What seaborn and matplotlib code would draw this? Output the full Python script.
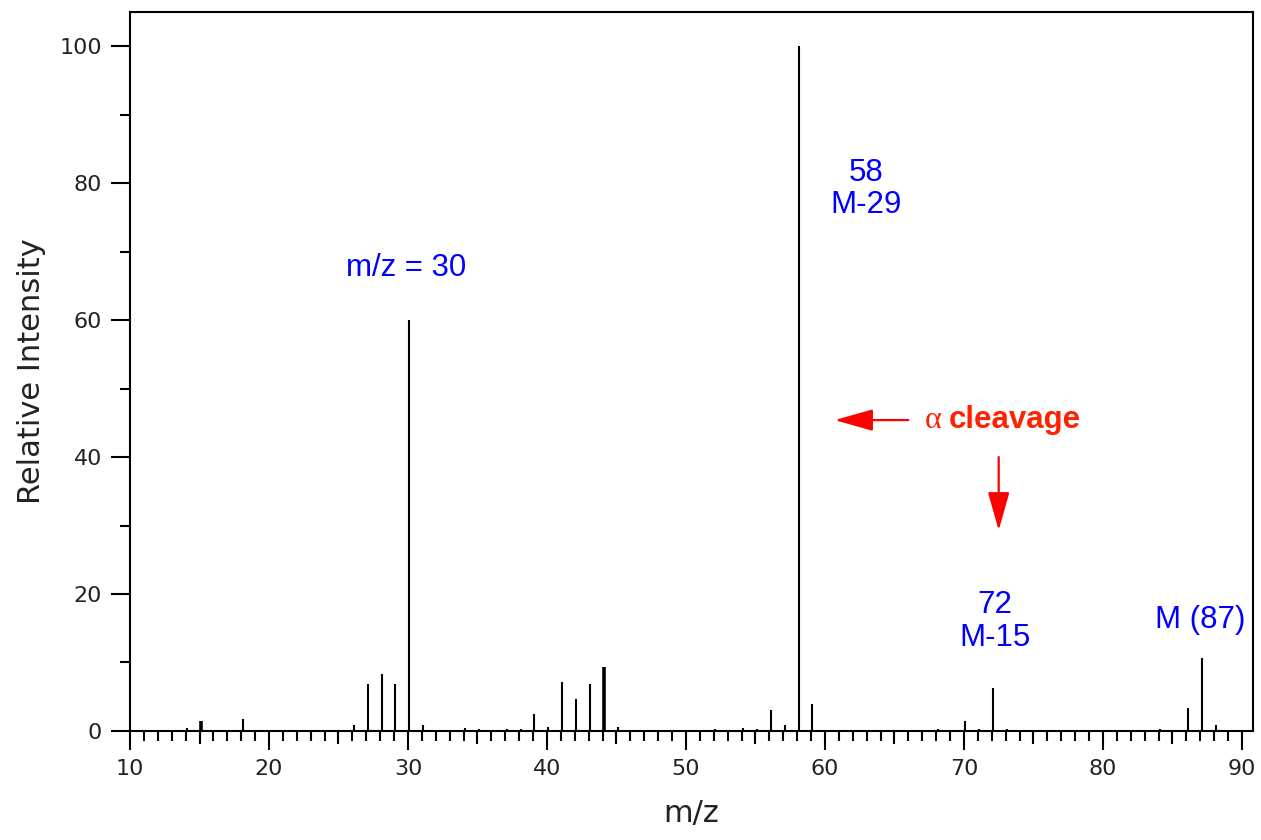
import numpy as np
import pandas as pd
import matplotlib
matplotlib.use('Agg')
import matplotlib.pyplot as plt
from matplotlib.ticker import MultipleLocator, FixedLocator
import seaborn as sns

# Mass spectrum peaks (m/z, relative intensity)
mz = [14, 15, 18, 26, 27, 28, 29, 30, 31, 34, 35, 37, 38, 39, 40, 41, 42, 43, 44,
      45, 52, 54, 55, 56, 57, 58, 59, 68, 70, 71, 72, 73, 84, 85, 86, 87, 88]
intensity = [0.4, 1.4, 1.7, 0.9, 6.9, 8.3, 6.9, 60.0, 0.9, 0.4, 0.3, 0.3, 0.3, 2.5, 0.6,
             7.1, 4.7, 6.8, 9.3, 0.6, 0.3, 0.5, 0.3, 3.0, 0.8, 100.0, 3.9, 0.3, 1.4,
             0.3, 6.3, 0.3, 0.3, 0.2, 3.3, 10.6, 0.8]
thick_peaks = [15, 44]

spec = pd.DataFrame({'mz': mz, 'intensity': intensity})

sns.set_theme(style='ticks')
plt.rcParams['font.family'] = ['DejaVu Sans']

fig = plt.figure(figsize=(12.61, 8.4), dpi=100)
ax = fig.add_axes([0.1031, 0.1298, 0.8906, 0.8559])

widths = [2.6 if m in thick_peaks else 1.5 for m in spec['mz']]
ax.vlines(spec['mz'] + 0.1, 0, spec['intensity'], colors='black', linewidths=widths)

ax.set_xlim(10, 90.8)
ax.set_ylim(0, 105)

for s in ax.spines.values():
    s.set_linewidth(1.5)
    s.set_color('black')

ax.xaxis.set_major_locator(MultipleLocator(10))
ax.xaxis.set_minor_locator(MultipleLocator(1))
ax.yaxis.set_major_locator(FixedLocator([0, 20, 40, 60, 80, 100]))
ax.yaxis.set_minor_locator(FixedLocator([10, 30, 50, 70, 90]))
ax.tick_params(axis='x', which='major', length=13.5, width=1.5, direction='out',
               labelsize=16, pad=7, colors='black', labelcolor='#222222')
ax.tick_params(axis='x', which='minor', length=7, width=1.5, direction='out', colors='black')
ax.tick_params(axis='y', which='major', length=14, width=1.5, direction='out',
               labelsize=16, pad=6, colors='black', labelcolor='#222222')
ax.tick_params(axis='y', which='minor', length=7, width=1.5, direction='out', colors='black')

# medium ticks at the fives
sec = ax.secondary_xaxis('bottom')
sec.set_xticks([15, 25, 35, 45, 55, 65, 75, 85])
sec.tick_params(length=9.5, width=1.5, labelbottom=False, colors='black')
sec.spines['bottom'].set_visible(False)

ax.set_xlabel('m/z', fontsize=22, color='#222222', labelpad=14)
ax.set_ylabel('Relative Intensity', fontsize=22, color='#222222', labelpad=10)

blue = '#0000ff'
ann = dict(color=blue, fontsize=22.5, family='Liberation Sans', ha='center', va='center')
ax.text(29.86, 67.6, 'm/z = 30', **ann)
ax.text(62.95, 79.2, '58\nM-29', linespacing=1.1, **ann)
ax.text(72.2, 16.0, '72\nM-15', linespacing=1.1, **ann)
ax.text(87.0, 16.2, 'M (87)', **ann)

red = '#ff0000'
ax.text(67.2, 45.4, '\u03b1', color='#ff2200', fontsize=23, family='Liberation Serif',
        ha='left', va='center')
ax.text(68.9, 45.4, 'cleavage', color='#ff2200', fontsize=22.5, family='Liberation Sans',
        fontweight='bold', ha='left', va='center')
arrow = dict(arrowstyle='-|>, head_length=0.85, head_width=0.24', color=red, lw=1.6,
             mutation_scale=28, shrinkA=0, shrinkB=0)
ax.annotate('', xy=(60.7, 45.4), xytext=(66.0, 45.4), arrowprops=arrow)
ax.annotate('', xy=(72.5, 29.3), xytext=(72.5, 40.0), arrowprops=arrow)

fig.savefig('out.png', dpi=100)
